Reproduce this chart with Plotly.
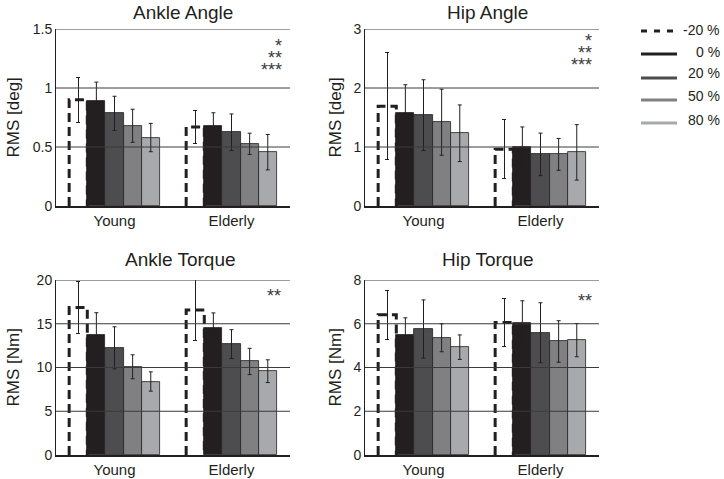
import plotly.graph_objects as go

# ---------------- data ----------------
groups = ["Young", "Elderly"]
conditions = ["-20 %", "0 %", "20 %", "50 %", "80 %"]

ankle_angle_young = [0.90, 0.89, 0.785, 0.68, 0.58]
ankle_angle_young_err = [0.19, 0.16, 0.145, 0.14, 0.12]
ankle_angle_elderly = [0.67, 0.68, 0.625, 0.527, 0.456]
ankle_angle_elderly_err = [0.14, 0.11, 0.155, 0.09, 0.15]

hip_angle_young = [1.69, 1.575, 1.54, 1.42, 1.233]
hip_angle_young_err = [0.91, 0.48, 0.60, 0.56, 0.48]
hip_angle_elderly = [0.96, 1.0, 0.875, 0.875, 0.909]
hip_angle_elderly_err = [0.50, 0.34, 0.36, 0.27, 0.47]

ankle_torque_young = [16.87, 13.66, 12.25, 10.08, 8.40]
ankle_torque_young_err = [3.0, 2.6, 2.4, 1.37, 1.1]
ankle_torque_elderly = [16.56, 14.54, 12.67, 10.69, 9.58]
ankle_torque_elderly_err = [3.45, 1.7, 1.65, 1.5, 1.3]

hip_torque_young = [6.41, 5.47, 5.76, 5.36, 4.93]
hip_torque_young_err = [1.12, 0.8, 1.33, 0.64, 0.56]
hip_torque_elderly = [6.06, 6.05, 5.59, 5.19, 5.25]
hip_torque_elderly_err = [1.1, 1.0, 1.37, 0.95, 0.76]

panel_titles = ["Ankle Angle", "Hip Angle", "Ankle Torque", "Hip Torque"]
y_titles = ["RMS [deg]", "RMS [deg]", "RMS [Nm]", "RMS [Nm]"]
y_max = [1.5, 3, 20, 8]
y_dtick = [0.5, 1, 5, 2]
significance = [["*", "**", "***"], ["*", "**", "***"], ["**"], ["**"]]

panels = [
    (ankle_angle_young, ankle_angle_young_err, ankle_angle_elderly, ankle_angle_elderly_err),
    (hip_angle_young, hip_angle_young_err, hip_angle_elderly, hip_angle_elderly_err),
    (ankle_torque_young, ankle_torque_young_err, ankle_torque_elderly, ankle_torque_elderly_err),
    (hip_torque_young, hip_torque_young_err, hip_torque_elderly, hip_torque_elderly_err),
]

# ---------------- style ----------------
W, H = 724, 479
colors = ["#ffffff", "#231f20", "#4d4d4f", "#808082", "#a7a9ac"]
FONT = "Arial, Liberation Sans, sans-serif"
TXT = "#231f20"

# panel pixel boxes: (left, right, top, bottom)
boxes = [(56, 290, 29, 206), (365, 599, 29, 206), (56, 290, 280, 455), (365, 599, 280, 455)]
title_x = [183, 487, 180, 488]
title_y = [12, 12, 259, 259]
ytitle_x = [13, 335, 13, 335]
sig_right = [284, 594, 283, 594]
sig_top = [46, 41, 296, 301]

bar_w = 0.155
offsets = [-2, -1, 0, 1, 2]

fig = go.Figure()
shapes = []
annotations = []

for p, (yv, ye, ev, ee) in enumerate(panels):
    xa = "x" if p == 0 else f"x{p+1}"
    ya = "y" if p == 0 else f"y{p+1}"
    group_vals = [yv, ev]
    group_errs = [ye, ee]
    for c in range(5):
        xs = [g + 1 + offsets[c] * bar_w for g in range(2)]
        vals = [group_vals[g][c] for g in range(2)]
        errs = [group_errs[g][c] for g in range(2)]
        fig.add_trace(go.Bar(
            x=xs, y=vals, width=bar_w, xaxis=xa, yaxis=ya,
            marker=dict(color=colors[c],
                        line=dict(color="#231f20", width=0 if c == 0 else 0.8)),
            error_y=dict(type="data", array=errs, visible=True,
                         color="#231f20", thickness=1, width=2),
            showlegend=False, hoverinfo="skip",
        ))
        if c == 0:
            # dashed outline for -20 % bars
            for g in range(2):
                x0 = xs[g] - bar_w / 2
                x1 = xs[g] + bar_w / 2
                fig.add_trace(go.Scatter(
                    x=[x0, x0, x1, x1], y=[0, vals[g], vals[g], 0],
                    mode="lines", xaxis=xa, yaxis=ya,
                    line=dict(color="#231f20", width=3, dash="9px,5px"),
                    showlegend=False, hoverinfo="skip",
                ))

    l, r, t, b = boxes[p]
    xkey = "xaxis" if p == 0 else f"xaxis{p+1}"
    ykey = "yaxis" if p == 0 else f"yaxis{p+1}"
    fig.update_layout({
        xkey: dict(domain=[l / W, r / W], range=[0.5, 2.5], anchor=ya, automargin=False,
                   tickvals=[1, 2], ticktext=groups, showgrid=False, zeroline=False,
                   showline=True, linecolor="#231f20", linewidth=1.5, ticks="",
                   tickfont=dict(family=FONT, size=15, color=TXT), fixedrange=True),
        ykey: dict(domain=[(H - b) / H, (H - t) / H], range=[0, y_max[p]], anchor=xa,
                   automargin=False,
                   dtick=y_dtick[p], showgrid=False, zeroline=False,
                   showline=True, linecolor="#231f20", linewidth=1, ticks="",
                   tickfont=dict(family=FONT, size=14, color=TXT), fixedrange=True),
    })
    # gridlines drawn above bars
    v = y_dtick[p]
    while v <= y_max[p] + 1e-9:
        shapes.append(dict(type="line", xref=f"{xa} domain", yref=ya, x0=0, x1=1,
                           y0=v, y1=v, line=dict(color="#3a3a3a", width=1), layer="above"))
        v += y_dtick[p]
    annotations.append(dict(text=panel_titles[p], x=title_x[p] / W, y=1 - title_y[p] / H,
                            xref="paper", yref="paper", xanchor="center", yanchor="middle",
                            showarrow=False, font=dict(family=FONT, size=19, color=TXT)))
    annotations.append(dict(text=y_titles[p], x=ytitle_x[p] / W, y=1 - (t + b) / 2 / H,
                            xref="paper", yref="paper", xanchor="center", yanchor="middle",
                            textangle=-90, showarrow=False,
                            font=dict(family=FONT, size=17, color=TXT)))
    for k, s in enumerate(significance[p]):
        annotations.append(dict(text=s, x=sig_right[p] / W, y=1 - (sig_top[p] + 12 * k) / H,
                                xref="paper", yref="paper", xanchor="right", yanchor="middle",
                                showarrow=False,
                                font=dict(family=FONT, size=18, color="#3a3a3a")))

# legend
leg_y_line = [31, 54, 78, 100, 123]
leg_y_text = [30, 52, 73, 96, 120]
leg_dash = ["6px,7px", "solid", "solid", "solid", "solid"]
leg_color = ["#231f20", "#231f20", "#4d4d4f", "#808082", "#a7a9ac"]
for i, lab in enumerate(conditions):
    yl = 1 - leg_y_line[i] / H
    shapes.append(dict(type="line", xref="paper", yref="paper", x0=641 / W, x1=677 / W,
                       y0=yl, y1=yl, line=dict(color=leg_color[i], width=3, dash=leg_dash[i])))
    annotations.append(dict(text=lab, x=722 / W, y=1 - leg_y_text[i] / H, xref="paper",
                            yref="paper", xanchor="right", yanchor="middle", showarrow=False,
                            font=dict(family=FONT, size=14, color=TXT)))

fig.update_layout(
    width=W, height=H, margin=dict(l=0, r=0, t=0, b=0, autoexpand=False),
    paper_bgcolor="white", plot_bgcolor="white",
    barmode="overlay", bargap=0,
    shapes=shapes, annotations=annotations,
)

fig.write_html("out.html", config={"displayModeBar": False},
               post_script="document.body.style.margin='0';document.body.style.padding='0';document.body.style.overflow='hidden';")
